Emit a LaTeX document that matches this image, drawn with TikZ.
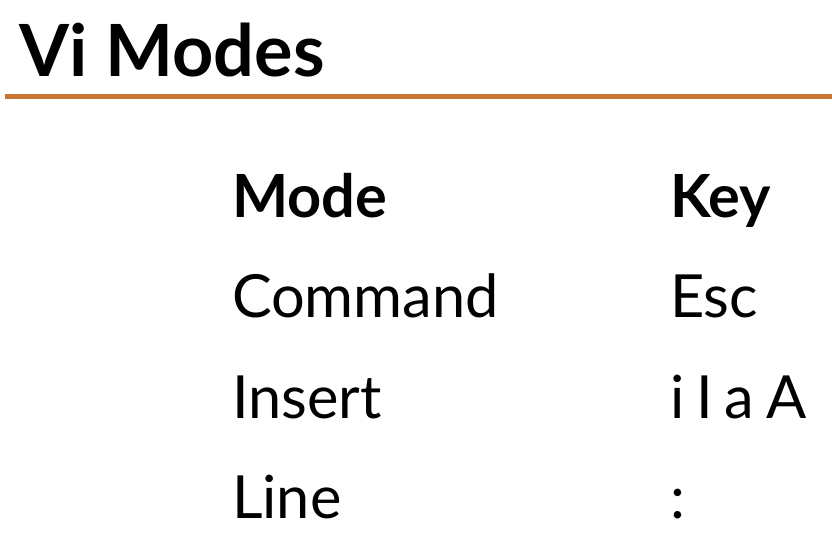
\documentclass[tikz,border=0pt]{standalone}
\usepackage{fontspec}
\setmainfont{Lato}
\definecolor{rule}{HTML}{C87533}
\begin{document}
\begin{tikzpicture}[x=1pt,y=-1pt,
  txt/.style={anchor=base west,inner sep=0pt,outer sep=0pt,font=\fontsize{59.5}{59.5}\selectfont},
  head/.style={txt,font=\fontsize{59.5}{59.5}\selectfont\bfseries}]
\useasboundingbox (0,0) rectangle (832,556);
\node[anchor=base west,inner sep=0pt,font=\fontsize{72}{72}\selectfont\bfseries] (title) at (19.5,77) {Vi Modes};
\coordinate (ruleL) at (5,96.5);
\coordinate (ruleR) at (832,96.5);
\draw[rule,line width=4.5pt] (ruleL) -- (ruleR);
\node[head] (hmode) at (232,217) {Mode};
\node[head] (hkey) at (670,217) {Key};
\node[txt] (m1) at (232,317) {Command};
\node[txt] (k1) at (670,317) {Esc};
\node[txt] (m2) at (232,418) {Insert};
\node[txt] (k2) at (670,418) {\spaceskip=0.2em i I a A};
\node[txt] (m3) at (232,518.5) {Line};
\node[txt] (k3) at (670,518.5) {:};
\end{tikzpicture}
\end{document}
